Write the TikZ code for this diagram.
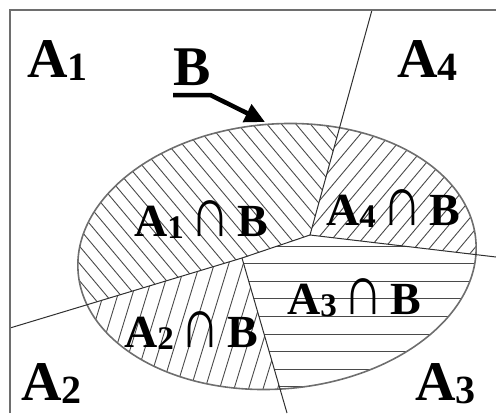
\documentclass[tikz,border=0pt]{standalone}
\usepackage{fontspec}
\setmainfont{Liberation Serif}
\usepackage{graphicx}
\usepackage{tikz}
\usetikzlibrary{arrows.meta}
\definecolor{edgegray}{HTML}{6E6E6E}
\definecolor{hatchgray}{HTML}{4A4A4A}
\definecolor{cutgray}{HTML}{303030}
\newcommand{\outA}[1]{A\raisebox{-3pt}{\fontsize{40}{40}\selectfont #1}}
\newcommand{\capB}[1]{A\raisebox{-2pt}{\fontsize{33}{33}\selectfont #1}\hspace{7pt}{\mdseries\scalebox{1.2}[1.55]{∩}}\hspace{7pt}B}

\begin{document}
\begin{tikzpicture}[
  x=1pt, y=-1pt,
  big/.style={font=\fontsize{56}{56}\selectfont\bfseries, inner sep=0pt, anchor=base west},
  mid/.style={font=\fontsize{46}{46}\selectfont\bfseries, inner sep=0pt, anchor=base west},
  hatch/.style={hatchgray, line width=0.9pt},
  cut/.style={cutgray, line width=1pt},
  oval/.style={x radius=199.5, y radius=132.5},
  tilt/.style={rotate around={4.5:(bc)}},
  pointer/.style={line width=4.5pt, -{Triangle[length=20pt,width=19pt]}}
]
  \useasboundingbox (0,0) rectangle (496,413);
  \coordinate (bc) at (277,256.5);
  \coordinate (T) at (372,10);
  \coordinate (P) at (310,235);
  \coordinate (Q) at (242,258);
  \coordinate (L) at (10,328);
  \coordinate (R) at (496,257);
  \coordinate (D) at (287,413);
  \coordinate (tip) at (265,122);

  \begin{scope}
    \clip[tilt] (bc) ellipse [oval];
    \clip (0,0) -- (T) -- (P) -- (Q) -- (L) -- cycle;
    \foreach \a in {-199.8,-185.3,...,260}
      \draw[hatch] (\a,0) -- ++(420,500);
  \end{scope}
  \begin{scope}
    \clip[tilt] (bc) ellipse [oval];
    \clip (T) -- (496,0) -- (R) -- (P) -- cycle;
    \foreach \a in {398,413,...,710}
      \draw[hatch] (\a,0) -- ++(-420,500);
  \end{scope}
  \begin{scope}
    \clip[tilt] (bc) ellipse [oval];
    \clip (L) -- (Q) -- (D) -- (0,413) -- cycle;
    \foreach \a in {150,164.5,...,430}
      \draw[hatch] (\a,0) -- ++(-130,425);
  \end{scope}
  \begin{scope}
    \clip[tilt] (bc) ellipse [oval];
    \clip (P) -- (R) -- (496,413) -- (D) -- (Q) -- cycle;
    \foreach \k in {0,...,8}
      \draw[hatch] (200,246+17.6*\k) -- (496,246+17.6*\k);
  \end{scope}

  \draw[edgegray, line width=1.6pt, tilt] (bc) ellipse [oval];
  \draw[cut] (T) -- (P) -- (R);
  \draw[cut] (L) -- (Q) -- (P);
  \draw[cut] (Q) -- (D);
  \draw[edgegray, line width=1.5pt] (10,413) -- (10,10) -- (496,10);

  \node[big] (a1) at (27,77) {\outA{1}};
  \node[big] (a4) at (397,77) {\outA{4}};
  \node[big] (a2) at (21,400) {\outA{2}};
  \node[big] (a3) at (415,400) {\outA{3}};
  \node[big, text depth=10pt] (b) at (173,85) {B};
  \node[mid] (a1b) at (134,236) {\capB{1}};
  \node[mid] (a4b) at (326,225) {\capB{4}};
  \node[mid] (a3b) at (287,314) {\capB{3}};
  \node[mid] (a2b) at (124,347) {\capB{2}};
  \draw[pointer] (b.south west) -- (b.south east) -- (tip);
\end{tikzpicture}
\end{document}
